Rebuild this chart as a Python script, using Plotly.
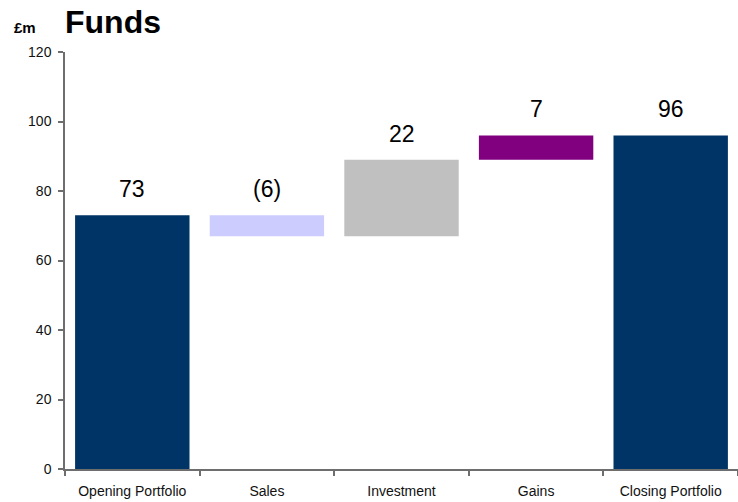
import plotly.graph_objects as go

# Funds bridge: opening balance, movements, closing balance (£m)
categories = ["Opening Portfolio", "Sales", "Investment", "Gains", "Closing Portfolio"]
changes = [73, -6, 22, 7, 96]
kinds = ["total", "relative", "relative", "relative", "total"]
value_labels = ["73", "(6)", "22", "7", "96"]
colors = ["#003366", "#CCCCFF", "#C0C0C0", "#800080", "#003366"]

# Work out the floating base and height of each bar
bases, heights, tops = [], [], []
running = 0
for kind, ch in zip(kinds, changes):
    if kind == "total":
        bases.append(0)
        heights.append(ch)
        running = ch
        tops.append(ch)
    else:
        start = running
        running = start + ch
        bases.append(min(start, running))
        heights.append(abs(ch))
        tops.append(max(start, running))

FONT = "Liberation Sans, Arial, sans-serif"
AXIS_COLOR = "#6e6e6e"

fig = go.Figure(
    go.Bar(
        x=categories,
        y=heights,
        base=bases,
        marker=dict(color=colors, line=dict(width=0)),
        hoverinfo="skip",
    )
)

annotations = [
    dict(
        x=cat, y=top, xref="x", yref="y",
        text=lab, showarrow=False,
        xanchor="center", yanchor="bottom", yshift=11,
        font=dict(family=FONT, size=23, color="#000000"),
    )
    for cat, top, lab in zip(categories, tops, value_labels)
]
annotations.append(dict(
    x=0, y=1.073, xref="paper", yref="paper", text="<b>Funds</b>",
    showarrow=False, xanchor="left", yanchor="middle", xshift=-2,
    font=dict(family=FONT, size=32, color="#000000"),
))
annotations.append(dict(
    x=-0.0788, y=1.058, xref="paper", yref="paper", text="<b>£m</b>",
    showarrow=False, xanchor="left", yanchor="middle",
    font=dict(family=FONT, size=15, color="#000000"),
))

fig.update_layout(
    width=738, height=502,
    margin=dict(l=65, r=0, t=52, b=33),
    paper_bgcolor="white", plot_bgcolor="white",
    showlegend=False,
    bargap=0.15,
    annotations=annotations,
    font=dict(family=FONT, color="#111111"),
)
fig.update_xaxes(
    type="category",
    showline=True, linecolor=AXIS_COLOR, linewidth=1.5,
    ticks="outside", tickson="boundaries", ticklen=5, tickcolor=AXIS_COLOR, tickwidth=1.5,
    tickfont=dict(family=FONT, size=14, color="#111111"),
    ticklabelstandoff=8,
    showgrid=False, zeroline=False,
)
fig.update_yaxes(
    range=[0, 120], dtick=20,
    showline=True, linecolor=AXIS_COLOR, linewidth=1.5,
    ticks="outside", ticklen=5, tickcolor=AXIS_COLOR, tickwidth=1.5,
    tickfont=dict(family=FONT, size=14, color="#111111"),
    ticklabelstandoff=4,
    showgrid=False, zeroline=False,
)

fig.write_html("out.html")
